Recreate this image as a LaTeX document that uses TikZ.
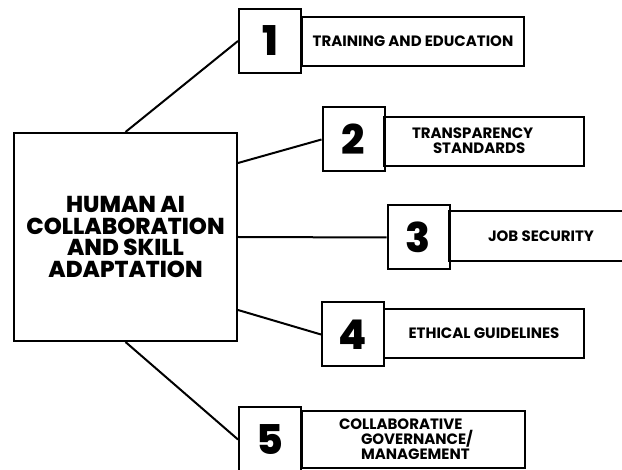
\documentclass[tikz,border=0pt]{standalone}
\usepackage{fontspec}
\setmainfont{Poppins}
\newfontfamily\heavyfont{Poppins ExtraBold}
\usetikzlibrary{positioning}

\begin{document}
\begin{tikzpicture}[x=1pt, y=-1pt, line width=2pt,
    mainbox/.style={draw, rectangle, minimum width=223pt, minimum height=208pt, inner sep=0pt,
      align=center, font=\heavyfont\fontsize{23}{21.5}\selectfont},
    numbox/.style={draw, rectangle, minimum width=62pt, minimum height=64pt, inner sep=0pt,
      font=\heavyfont\fontsize{41}{41}\selectfont},
    labelbox/.style={draw, rectangle, minimum height=49pt, inner sep=0pt},
    labeltext/.style={font=\bfseries\fontsize{15}{15}\selectfont, align=left, inner sep=0pt},
    link/.style={draw, line width=2pt}
  ]
  \useasboundingbox (0,0) rectangle (622,470);
  \fill[white] (0,0) rectangle (622,470);

  % Central topic
  \node[mainbox] (main) at (125.5,237) {HUMAN AI\\COLLABORATION\\AND SKILL\\ADAPTATION};

  % Item 1
  \node[labelbox, minimum width=222pt] (l1) at (413,41.5) {};
  \node[numbox] (n1) at (270,41) {1};
  \node[labeltext] (t1) at (l1.center) {TRAINING AND EDUCATION};

  % Item 2
  \node[labelbox, minimum width=200pt] (l2) at (484,141.5) {};
  \node[numbox] (n2) at (353.5,139.5) {2};
  \node[labeltext, anchor=west, font=\bfseries\fontsize{15}{15}\selectfont] (t2) at (411,141)
    {TRANSPARENCY\\\hspace*{21pt}STANDARDS};

  % Item 3
  \node[labelbox, minimum width=184pt, minimum height=50pt] (l3) at (541,236) {};
  \node[numbox] (n3) at (418.5,237.5) {3};
  \node[labeltext] (t3) at (l3.center) {JOB SECURITY};

  % Item 4
  \node[labelbox, minimum width=200pt] (l4) at (484,333.5) {};
  \node[numbox] (n4) at (353,334.5) {4};
  \node[labeltext] (t4) at (l4.center) {ETHICAL GUIDELINES};

  % Item 5
  \node[labelbox, minimum width=223pt, minimum height=57pt] (l5) at (413.5,439.5) {};
  \node[numbox] (n5) at (270,439.5) {5};
  \node[labeltext, anchor=west, font=\bfseries\fontsize{15}{12.8}\selectfont] (t5) at (338,439)
    {COLLABORATIVE\\\hspace*{22pt}GOVERNANCE/\\\hspace*{22pt}MANAGEMENT};

  % Connectors from the central box
  \coordinate (m2) at ([yshift=74pt]main.east);
  \coordinate (m4) at ([yshift=-73pt]main.east);
  \draw[link] (main.north) -- (n1.west);
  \draw[link] (m2) -- (n2.west);
  \draw[link] (main.east) -- (n3.west);
  \draw[link] (m4) -- (n4.west);
  \draw[link] (main.south) -- (n5.west);
\end{tikzpicture}
\end{document}
